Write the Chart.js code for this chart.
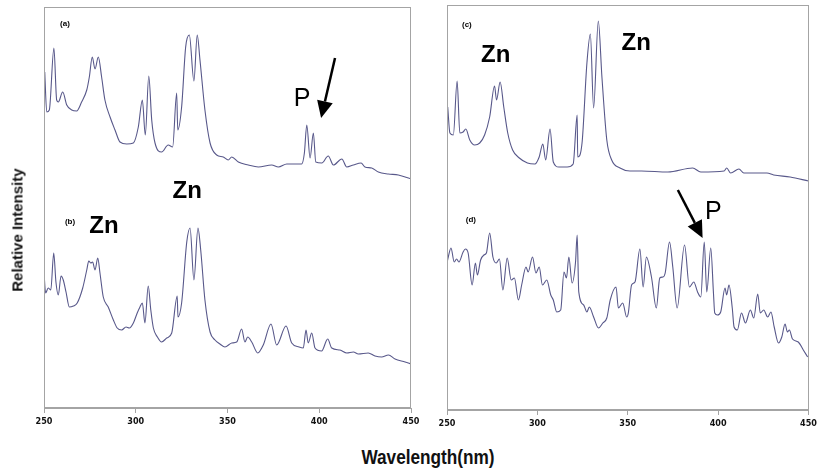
<!DOCTYPE html>
<html>
<head>
<meta charset="utf-8">
<script src="https://cdn.jsdelivr.net/npm/chart.js@4.4.1/dist/chart.umd.min.js"></script>
<style>
  body { margin: 0; background: #fff; width: 820px; height: 475px; position: relative; overflow: hidden; }
  canvas { position: absolute; top: 0; }
  #left { left: 0; }
  #right { left: 425px; }
  #ytitle {
    position: absolute; left: 17px; top: 230px;
    transform: translate(-50%, -50%) rotate(-90deg);
    font: bold 15px "Liberation Sans", Arial, sans-serif; white-space: nowrap; color: #111;
  }
  #xtitle {
    position: absolute; left: 428px; top: 457px;
    transform: translate(-50%, -50%) scaleX(0.86);
    font: bold 20px "Liberation Sans", Arial, sans-serif; white-space: nowrap; color: #111;
  }
</style>
</head>
<body>
<canvas id="left" width="425" height="440"></canvas>
<canvas id="right" width="395" height="442"></canvas>
<div id="ytitle">Relative Intensity</div>
<div id="xtitle">Wavelength(nm)</div>
<script>
/* wavelength axis */
const xTicks = [250, 300, 350, 400, 450];

/* (a) upper left spectrum */
const waveA = [250.4,251.5,252.9,255.4,256.9,257.8,260.2,262.4,265.1,267.8,270.5,273.3,274.7,276.3,277.8,279.6,281.4,283.2,286,288.7,291.4,295.1,298.7,301.4,303.6,305.2,307.1,308.7,310.5,314.1,317.7,320.1,322.3,322.9,325,327.2,329.2,331.7,333.5,335,337.7,340.5,344.1,347.7,350.4,352.3,355.9,361.3,366.8,374.1,377.7,382.3,390.4,391.9,393.2,395,396.8,398.1,401.4,404.9,407.7,412.3,415,418.6,422.8,424.9,428.6,432.2,437.6,443.1,450];
const intA = [336,296,298,360,308,306,316,303,298,297,306,318,331,351,339,351,331,308,291,278,266,264,265,281,308,273,332,288,265,256,263,261,315,278,301,361,373,327,373,348,298,265,253,251,248,251,246,243,241,243,241,244,244,255,283,250,275,246,245,252,243,249,241,243,245,241,240,236,234,233,229];

/* (b) lower left spectrum */
const waveB = [250,250.9,252.3,253.7,255.3,256.5,257.8,259.3,260.5,262,263.8,266,268.1,271.1,273.3,274.4,275.5,276.5,277.8,279.3,280.5,282.3,285,287.8,289.9,292.3,294.7,296.5,298.7,300.8,302.3,303.6,305,306.8,308.2,309.6,311.8,314.1,316.9,319.6,322.6,323,325,327.8,329.6,331.7,333.9,335.4,337.7,340.5,343.2,345.9,348.6,352.3,355,357.7,359.5,361,363.2,366.5,369.5,373.7,376.8,381.9,385,389,391.3,392.8,394,395.9,397.7,401.3,404.6,406.8,411.3,415,418.6,421.3,426.7,430.4,434,437.7,441.3,446.8,450];
const intB = [135,115,120,118,155,126,113,132,128,116,101,102,105,120,138,147,145,146,138,150,135,111,101,88,80,78,81,80,85,95,101,105,85,122,98,80,71,66,70,75,112,91,105,166,180,128,180,158,108,76,68,64,61,65,66,79,66,71,66,55,63,84,63,82,65,61,60,78,65,75,60,57,69,60,58,55,56,54,55,52,51,53,49,46,44];

/* (c) upper right spectrum */
const waveC = [250.4,251.6,253.5,255.6,257.1,258.9,260.4,262.6,265.3,268.1,270.8,273.6,276.3,277.4,279.4,281.4,283.6,286.3,290,294.5,298.6,301,303,304.6,307,308.8,311.9,316.5,319.8,322,322.3,324.7,327.4,329.3,331.1,333.7,335.7,338.4,341.1,345.7,351.2,357.6,372.2,385.9,390.4,403.3,404.7,406.9,411.5,414.2,419.7,427,430.7,439.8,450];
const intC = [303,277,275,329,277,278,281,270,265,267,275,293,324,310,328,303,277,260,252,247,246,253,266,250,281,248,243,243,246,295,253,267,347,376,302,389,333,270,250,242,239,239,238,242,238,239,242,237,241,237,237,237,235,233,229];

/* (d) lower right spectrum */
const waveD = [250,250.7,252.2,254,255.3,256.6,258.9,260.2,261.7,263.9,265.7,266.8,268.6,270.4,271.8,273.6,275.4,277.2,279,280.9,283.3,285.5,287.3,289.5,291.3,293.7,294.9,297.3,299.2,301,302.8,305.2,307.4,308.8,310.7,312.9,314.7,316.1,317.4,319.2,321.1,322,322.9,325.6,327.4,328.7,331.1,333.8,336.2,338.4,340.3,343.5,344.8,347.2,349.4,350.3,352.1,354,356.7,358.5,360.3,363.1,365.8,367.7,369.5,370.7,373.1,374.9,377.3,381.4,384.1,386.5,388.6,390.4,392.3,393.7,395.9,397.4,398.1,399.6,401.4,403.8,404.7,406,407.8,408.8,410.6,412.9,415.1,417.8,419.7,421.9,423.3,425.2,427.4,429.2,431,433.4,435.2,437,438.3,439.4,441.1,444.3,447.1,449.5];
const intD = [147,153,162,148,151,148,158,161,157,125,147,135,150,155,157,177,153,147,151,120,152,130,132,110,125,143,138,153,137,143,125,130,115,110,98,100,138,132,153,127,148,175,118,105,98,103,93,82,87,92,110,123,102,107,93,97,125,128,161,123,153,133,102,132,133,137,168,143,102,165,123,128,118,113,168,118,162,117,97,95,98,122,115,125,102,83,80,97,87,100,92,116,97,100,93,98,83,67,73,86,78,80,71,68,60,53];

const LINE = 'rgb(88,88,138)';
const BOX = '#a4a4a4';

function pts(xs, ys) {
  return xs.map((x, i) => ({ x, y: ys[i] }));
}

function spectrum(xs, ys) {
  return {
    data: pts(xs, ys),
    borderColor: LINE,
    borderWidth: 1.1,
    pointRadius: 0,
    cubicInterpolationMode: 'monotone',
    fill: false
  };
}

/* frame, panel letters, element labels and arrows */
const panelDecor = {
  id: 'panelDecor',
  afterDraw(chart, args, opts) {
    const { ctx, chartArea: a, scales: { x, y } } = chart;
    ctx.save();
    ctx.strokeStyle = BOX;
    ctx.lineWidth = 1;
    ctx.strokeRect(Math.round(a.left) + 0.5, Math.round(a.top) + 0.5,
      Math.round(a.right - a.left) - 1, Math.round(a.bottom - a.top) - 1);

    ctx.fillStyle = '#000';
    ctx.textAlign = 'center';
    ctx.textBaseline = 'middle';
    (opts.labels || []).forEach(l => {
      ctx.font = l.font;
      ctx.fillText(l.text, x.getPixelForValue(l.x), y.getPixelForValue(l.y));
    });

    (opts.arrows || []).forEach(ar => {
      const x0 = x.getPixelForValue(ar.from[0]), y0 = y.getPixelForValue(ar.from[1]);
      const x1 = x.getPixelForValue(ar.to[0]), y1 = y.getPixelForValue(ar.to[1]);
      const ang = Math.atan2(y1 - y0, x1 - x0);
      const head = 17, half = 8;
      const bx = x1 - head * Math.cos(ang), by = y1 - head * Math.sin(ang);
      ctx.strokeStyle = '#000';
      ctx.lineWidth = 2.5;
      ctx.beginPath();
      ctx.moveTo(x0, y0);
      ctx.lineTo(bx, by);
      ctx.stroke();
      ctx.beginPath();
      ctx.moveTo(x1, y1);
      ctx.lineTo(bx + half * Math.sin(ang), by - half * Math.cos(ang));
      ctx.lineTo(bx - half * Math.sin(ang), by + half * Math.cos(ang));
      ctx.closePath();
      ctx.fill();
    });
    ctx.restore();
  }
};

function panelOptions(yMax, pad, decor) {
  return {
    responsive: false,
    animation: false,
    layout: { padding: pad },
    plugins: {
      legend: { display: false },
      tooltip: { enabled: false },
      panelDecor: decor
    },
    scales: {
      x: {
        type: 'linear',
        min: 250,
        max: 450,
        afterFit: s => { s.height = 30; },
        afterBuildTicks: s => { s.ticks = xTicks.map(v => ({ value: v })); },
        border: { display: true, color: BOX },
        grid: { drawOnChartArea: false, drawTicks: true, tickLength: 5, color: BOX },
        ticks: {
          padding: 3,
          color: '#111',
          maxRotation: 0,
          font: { family: '"DejaVu Sans Condensed", "Liberation Sans", sans-serif', size: 9, weight: 'bold' }
        }
      },
      y: { display: false, min: 0, max: yMax }
    }
  };
}

const ZN = 'bold 24px "Liberation Sans", Arial, sans-serif';
const PFONT = '25px "Liberation Sans", Arial, sans-serif';
const TAG = 'bold 8px "Liberation Sans", Arial, sans-serif';

new Chart(document.getElementById('left'), {
  type: 'line',
  data: { datasets: [spectrum(waveA, intA), spectrum(waveB, intB)] },
  options: panelOptions(401, { left: 44, right: 14, top: 7, bottom: 2 }, {
    labels: [
      { text: '(a)', x: 261.4, y: 384, font: TAG },
      { text: 'Zn', x: 328, y: 217, font: ZN },
      { text: 'P', x: 390.6, y: 309, font: PFONT },
      { text: '(b)', x: 264.2, y: 186, font: TAG },
      { text: 'Zn', x: 282.7, y: 182, font: ZN }
    ],
    arrows: [{ from: [408.6, 350], to: [401, 290] }]
  }),
  plugins: [panelDecor]
});

new Chart(document.getElementById('right'), {
  type: 'line',
  data: { datasets: [spectrum(waveC, intC), spectrum(waveD, intD)] },
  options: panelOptions(405, { left: 22, right: 8, top: 5, bottom: 2 }, {
    labels: [
      { text: '(c)', x: 261, y: 385, font: TAG },
      { text: 'Zn', x: 276.9, y: 355, font: ZN },
      { text: 'Zn', x: 354.7, y: 367, font: ZN },
      { text: '(d)', x: 263.2, y: 190, font: TAG },
      { text: 'P', x: 397.4, y: 198, font: PFONT }
    ],
    arrows: [{ from: [377.7, 220], to: [391.4, 172] }]
  }),
  plugins: [panelDecor]
});
</script>
</body>
</html>
